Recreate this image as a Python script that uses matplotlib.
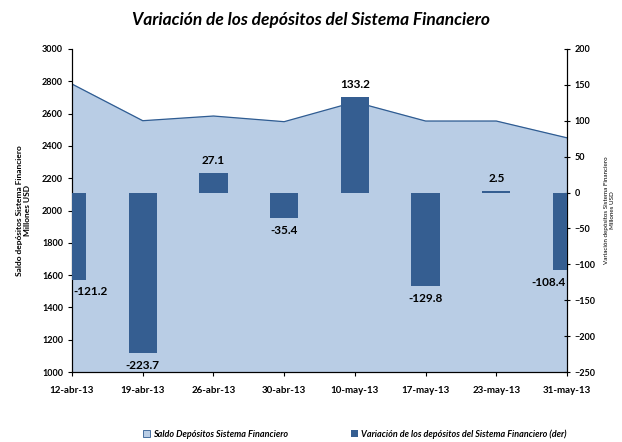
import numpy as np
import matplotlib.pyplot as plt

# Datos
fechas = ['12-abr-13', '19-abr-13', '26-abr-13', '30-abr-13',
          '10-may-13', '17-may-13', '23-may-13', '31-may-13']
saldo = [2783, 2556, 2585, 2550, 2672, 2554, 2554, 2450]
variacion = [-121.2, -223.7, 27.1, -35.4, 133.2, -129.8, 2.5, -108.4]

c_area = '#B9CDE5'
c_linea = '#2F5C92'
c_barra = '#355E91'

plt.rcParams['font.family'] = ['Lato', 'DejaVu Sans']

fig = plt.figure(figsize=(6.22, 4.42), dpi=100)
ax = fig.add_axes([72/622, 1-372/442, (567-72)/622, (372-49)/442])
x = np.arange(len(fechas))

ax.fill_between(x, 1000, saldo, color=c_area, zorder=1)
ax.plot(x, saldo, color=c_linea, lw=0.9, zorder=2)
ax.set_xlim(0, 7)
ax.set_ylim(1000, 3000)
ax.set_yticks(np.arange(1000, 3001, 200))
ax.set_xticks(x)
ax.set_xticklabels(fechas, fontweight='bold', fontsize=7)
ax.tick_params(axis='y', labelsize=6.5, length=3, direction='out')
ax.tick_params(axis='x', length=3, direction='out', pad=7)
for lab in ax.get_yticklabels():
    lab.set_fontweight('bold')
ax.spines['top'].set_visible(False)
ax.set_ylabel('Saldo depósitos Sistema Financiero\nMillones USD', fontsize=6,
              fontweight='bold', labelpad=8)

ax2 = ax.twinx()
ax2.bar(x, variacion, width=0.4, color=c_barra, zorder=3)
ax2.set_xlim(0, 7)
ax2.set_ylim(-250, 200)
ax2.set_yticks(np.arange(-250, 201, 50))
ax2.tick_params(axis='y', labelsize=6.5, length=4, direction='inout')
for lab in ax2.get_yticklabels():
    lab.set_fontweight('bold')
ax2.spines['top'].set_visible(False)
ax2.set_ylabel('Variación depósitos Sistema Financiero\nMillones USD', fontsize=4.5,
               labelpad=6)

for i, v in enumerate(variacion):
    ha = 'center'
    xi = i
    if i == 0:
        ha, xi = 'left', 0.02
    elif i == len(variacion) - 1:
        ha, xi = 'right', 6.98
    va = 'bottom' if v >= 0 else 'top'
    off = 5 if v >= 0 else -5
    ax2.annotate(f'{v:.1f}', (xi, v), xytext=(0, off), textcoords='offset points',
                 ha=ha, va=va, fontsize=8.5, fontweight='bold')

fig.text(0.5, 0.955, 'Variación de los depósitos del Sistema Financiero',
         ha='center', va='center', fontsize=12.5, fontweight='bold', style='italic')

h1 = plt.Rectangle((0, 0), 1, 1, facecolor=c_area, edgecolor=c_linea, lw=0.6)
h2 = plt.Rectangle((0, 0), 1, 1, facecolor=c_barra)
leg = fig.legend([h1, h2], ['Saldo Depósitos Sistema Financiero',
                            'Variación de los depósitos del Sistema Financiero (der)'],
                 loc='center', bbox_to_anchor=(0.57, 0.018), ncol=2, frameon=False,
                 prop={'size': 6.5, 'style': 'italic', 'weight': 'bold'},
                 handlelength=0.8, handleheight=0.8, handletextpad=0.3, columnspacing=7)

fig.savefig('out.png', dpi=100)
